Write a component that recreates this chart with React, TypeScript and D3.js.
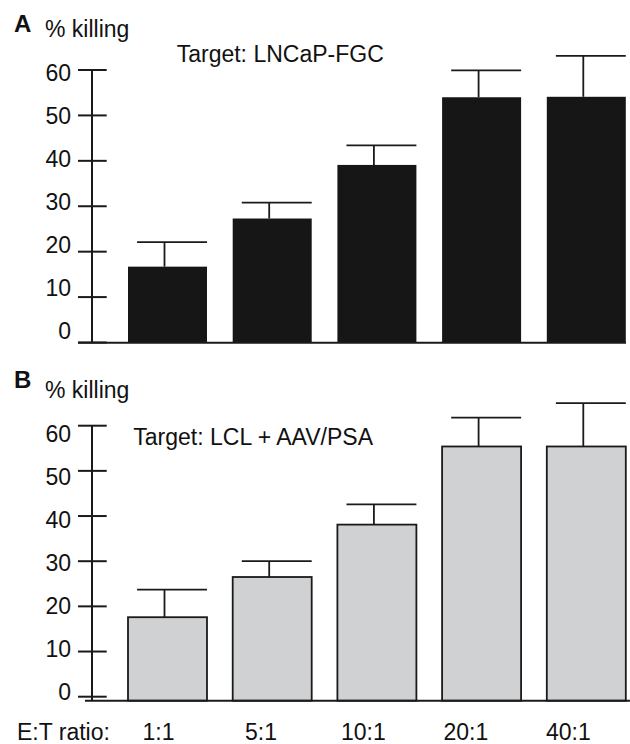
import React from 'react';
import * as d3 from 'd3';

// ---- Data ----
const categories = ['1:1', '5:1', '10:1', '20:1', '40:1'];
const killingA = [16.7, 27.3, 39.1, 54.0, 54.1];
const errA = [5.4, 3.5, 4.3, 5.9, 9.0];
const killingB = [17.6, 26.5, 38.1, 55.4, 55.4];
const errB = [6.1, 3.5, 4.5, 6.4, 9.6];
const yTicks = [0, 10, 20, 30, 40, 50, 60];

const FONT = "'Liberation Sans', Arial, Helvetica, sans-serif";
const W = 630;
const H = 744;

const x = d3.scaleBand<string>().domain(categories).range([128, 625.8]).paddingInner(0.2455).paddingOuter(0);
const xLabel = d3.scalePoint<string>().domain(categories).range([158.5, 568.3]);

type PanelProps = {
  values: number[];
  errors: number[];
  y: d3.ScaleLinear<number, number>;
  yLab: d3.ScaleLinear<number, number>;
  baseline: number;
  baseX0: number;
  baseX1: number;
  fill: string;
  stroke: string;
  strokeWidth: number;
};

function Panel({ values, errors, y, yLab, baseline, baseX0, baseX1, fill, stroke, strokeWidth }: PanelProps) {
  const bw = x.bandwidth();
  const axisX = 92;
  return (
    <g>
      {categories.map((c, i) => {
        const x0 = x(c)!;
        const top = y(values[i]);
        return (
          <rect key={'b' + c} x={x0} y={top} width={bw} height={baseline - top}
            fill={fill} stroke={stroke} strokeWidth={strokeWidth} />
        );
      })}
      {categories.map((c, i) => {
        const x0 = x(c)!;
        const stem = x0 + bw / 2 - 3;
        const top = y(values[i]);
        const et = y(values[i] + errors[i]);
        return (
          <g key={'e' + c} stroke="#1a1a1a" strokeWidth={1.8}>
            <line x1={stem} x2={stem} y1={top} y2={et} />
            <line x1={x0 + bw * 0.115} x2={x0 + bw} y1={et} y2={et} />
          </g>
        );
      })}
      <line x1={axisX} x2={axisX} y1={y(60)} y2={baseline} stroke="#1a1a1a" strokeWidth={2} />
      {yTicks.map((t) => (
        <g key={'t' + t}>
          <line x1={78} x2={106.7} y1={y(t)} y2={y(t)} stroke="#1a1a1a" strokeWidth={2} />
          <text x={71} y={yLab(t)} dy="0.35em" textAnchor="end" fontSize={23} fontFamily={FONT} fill="#111">{t}</text>
        </g>
      ))}
      <line x1={baseX0} x2={baseX1} y1={baseline} y2={baseline} stroke="#1a1a1a" strokeWidth={2} />
    </g>
  );
}

export default function App() {
  const yA = d3.scaleLinear().domain([0, 60]).range([342.5, 70]);
  const yALab = d3.scaleLinear().domain([0, 60]).range([330.5, 72.5]);
  const yB = d3.scaleLinear().domain([0, 60]).range([696.7, 425.7]);
  const yBLab = d3.scaleLinear().domain([0, 60]).range([691.7, 434]);

  return (
    <svg width={W} height={H} style={{ position: 'absolute', left: 0, top: 0, background: '#fff' }}>
      <rect x={0} y={0} width={W} height={H} fill="#fff" />
      {/* Panel A */}
      <text x={14} y={32} fontSize={24} fontWeight="bold" fontFamily={FONT} fill="#111">A</text>
      <text x={45} y={36.7} fontSize={23} fontFamily={FONT} fill="#111">% killing</text>
      <text x={176.7} y={61.7} fontSize={23} fontFamily={FONT} fill="#111">Target: LNCaP-FGC</text>
      <Panel values={killingA} errors={errA} y={yA} yLab={yALab} baseline={342.7} baseX0={78} baseX1={626}
        fill="#161616" stroke="#161616" strokeWidth={0} />

      {/* Panel B */}
      <text x={14} y={387.5} fontSize={24} fontWeight="bold" fontFamily={FONT} fill="#111">B</text>
      <text x={45} y={397.7} fontSize={23} fontFamily={FONT} fill="#111">% killing</text>
      <text x={133.3} y={445} fontSize={23} fontFamily={FONT} fill="#111">Target: LCL + AAV/PSA</text>
      <Panel values={killingB} errors={errB} y={yB} yLab={yBLab} baseline={700.7} baseX0={85} baseX1={630}
        fill="#d0d1d3" stroke="#1a1a1a" strokeWidth={1.8} />

      {/* x labels */}
      <text x={17} y={740} fontSize={23} fontFamily={FONT} fill="#111">E:T ratio:</text>
      {categories.map((c) => (
        <text key={'xl' + c} x={xLabel(c)} y={740} textAnchor="middle" fontSize={23} fontFamily={FONT} fill="#111">{c}</text>
      ))}
    </svg>
  );
}
